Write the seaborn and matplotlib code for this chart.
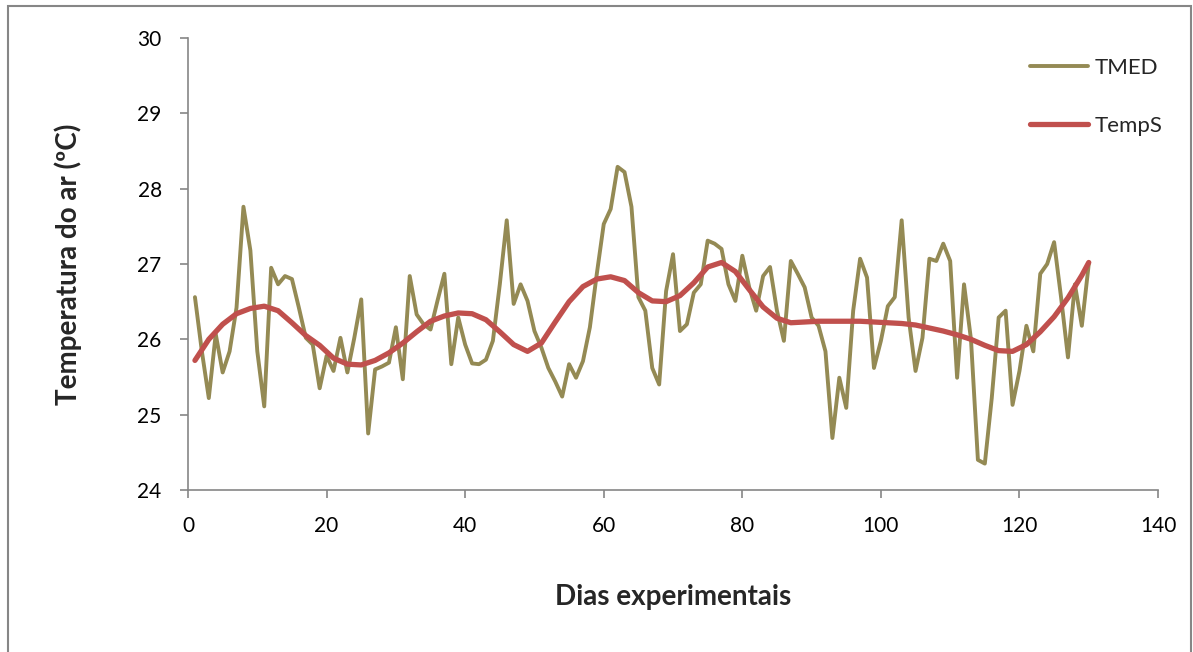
import numpy as np
import pandas as pd
import matplotlib
matplotlib.use("Agg")
import matplotlib.pyplot as plt
import seaborn as sns

# daily mean air temperature (TMED), days 1..130
dias = list(range(1, 131))
tmed = [26.56, 25.84, 25.22, 26.07, 25.56, 25.84, 26.42, 27.76, 27.18, 25.84,
        25.11, 26.95, 26.73, 26.84, 26.80, 26.42, 26.02, 25.93, 25.35, 25.78,
        25.58, 26.02, 25.56, 26.02, 26.53, 24.75, 25.60, 25.64, 25.69, 26.16,
        25.47, 26.84, 26.33, 26.20, 26.13, 26.51, 26.87, 25.67, 26.29, 25.93,
        25.68, 25.67, 25.73, 25.98, 26.73, 27.58, 26.47, 26.73, 26.51, 26.11,
        25.89, 25.62, 25.44, 25.24, 25.67, 25.49, 25.71, 26.16, 26.87, 27.53,
        27.73, 28.29, 28.22, 27.76, 26.56, 26.38, 25.62, 25.40, 26.64, 27.13,
        26.11, 26.20, 26.62, 26.73, 27.31, 27.27, 27.20, 26.73, 26.51, 27.11,
        26.69, 26.38, 26.84, 26.96, 26.38, 25.98, 27.04, 26.87, 26.69, 26.29,
        26.18, 25.84, 24.69, 25.49, 25.09, 26.38, 27.07, 26.82, 25.62, 25.98,
        26.44, 26.56, 27.58, 26.29, 25.58, 26.02, 27.07, 27.04, 27.27, 27.04,
        25.49, 26.73, 26.00, 24.40, 24.35, 25.22, 26.29, 26.38, 25.13, 25.58,
        26.18, 25.84, 26.87, 27.00, 27.29, 26.56, 25.76, 26.73, 26.18, 27.00]

# smoothed temperature (TempS), read every two days
dias_s = list(range(1, 130, 2)) + [130]
temps = [25.72, 26.00, 26.20, 26.34, 26.41, 26.44, 26.38, 26.22, 26.05, 25.92,
         25.75, 25.67, 25.66, 25.72, 25.82, 25.95, 26.10, 26.24, 26.31, 26.35,
         26.34, 26.26, 26.10, 25.93, 25.84, 25.95, 26.23, 26.50, 26.70, 26.80,
         26.83, 26.78, 26.62, 26.51, 26.50, 26.58, 26.75, 26.96, 27.02, 26.90,
         26.66, 26.43, 26.28, 26.22, 26.23, 26.24, 26.24, 26.24, 26.24, 26.23,
         26.22, 26.21, 26.19, 26.15, 26.11, 26.06, 26.00, 25.92, 25.85, 25.84,
         25.93, 26.10, 26.30, 26.55, 26.85, 27.02]

sns.set_style("white")
plt.rcParams['font.family'] = ['Lato', 'DejaVu Sans']

fig = plt.figure(figsize=(11.93, 6.52), dpi=100)
ax = fig.add_axes([0.1576, 0.2485, 0.8131, 0.6932])

sns.lineplot(x=dias, y=tmed, ax=ax, color='#948A54', linewidth=2.8, label='TMED',
             solid_joinstyle='round')
sns.lineplot(x=dias_s, y=temps, ax=ax, color='#C0504D', linewidth=3.8, label='TempS',
             solid_joinstyle='round')

ax.set_xlim(0, 140)
ax.set_ylim(24, 30)
ax.set_xticks(range(0, 141, 20))
ax.set_yticks(range(24, 31))

for s in ['top', 'right']:
    ax.spines[s].set_visible(False)
for s in ['left', 'bottom']:
    ax.spines[s].set_color('#868686')
    ax.spines[s].set_linewidth(1.2)
ax.tick_params(axis='both', colors='#868686', labelcolor='black', labelsize=15,
               length=6, width=1.2, direction='out')
ax.tick_params(axis='y', pad=13, left=True)
ax.tick_params(axis='x', pad=13, bottom=True)

ax.set_xlabel('Dias experimentais', fontsize=20, fontweight='bold', labelpad=34)
ax.set_ylabel('Temperatura do ar (ºC)', fontsize=20, fontweight='bold', labelpad=40)

ax.legend(loc='upper right', bbox_to_anchor=(1.025, 1.0), frameon=False, fontsize=16,
          handlelength=2.6, labelspacing=1.7, handletextpad=0.3)

# outer chart frame
fig.patches.append(plt.Rectangle((8 / 1193, -0.05), (1191 - 8) / 1193, 1.05 - 6 / 652,
                                 transform=fig.transFigure, fill=False,
                                 edgecolor='#868686', linewidth=1.5))

fig.savefig('out.png', dpi=100)
